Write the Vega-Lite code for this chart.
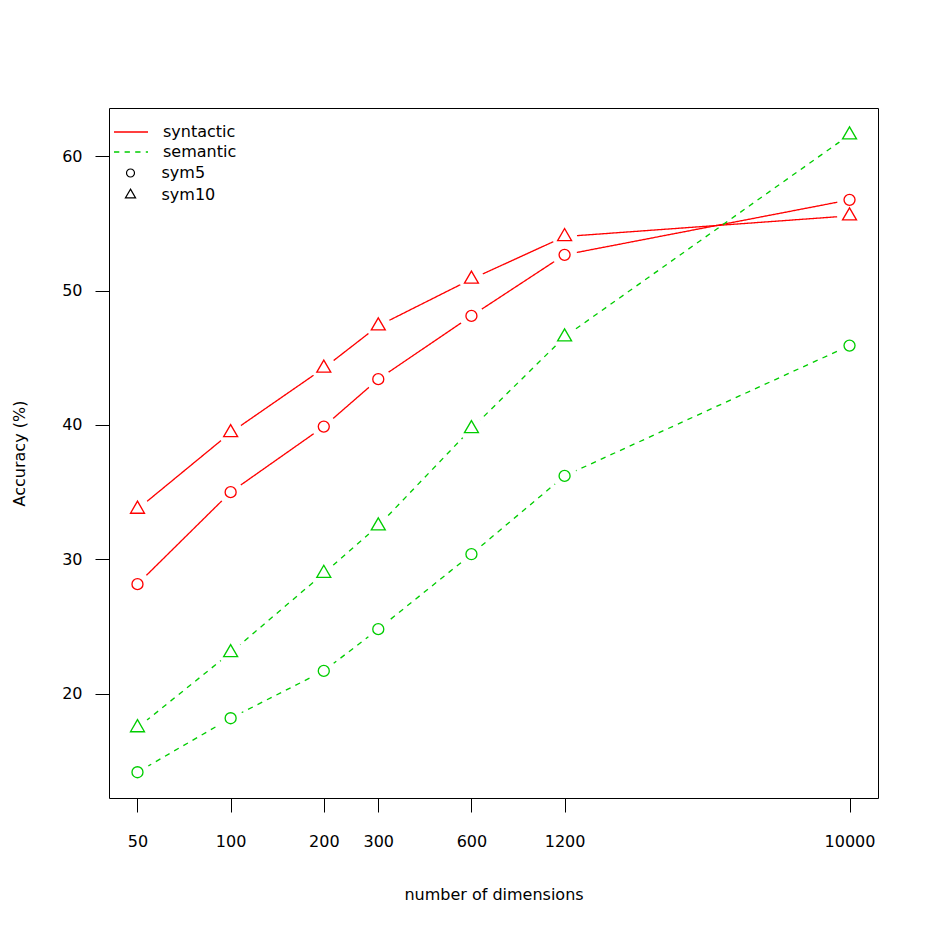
{
  "$schema": "https://vega.github.io/schema/vega-lite/v6.json",
  "width": 769,
  "height": 690,
  "autosize": {"type": "none"},
  "padding": {"left": 109, "top": 108, "right": 56, "bottom": 136},
  "background": "white",
  "data": {
    "values": [
      {"dim": 50, "acc": 28.15, "method": "syntactic", "sym": "sym5"},
      {"dim": 100, "acc": 35.0, "method": "syntactic", "sym": "sym5"},
      {"dim": 200, "acc": 39.88, "method": "syntactic", "sym": "sym5"},
      {"dim": 300, "acc": 43.41, "method": "syntactic", "sym": "sym5"},
      {"dim": 600, "acc": 48.12, "method": "syntactic", "sym": "sym5"},
      {"dim": 1200, "acc": 52.67, "method": "syntactic", "sym": "sym5"},
      {"dim": 10000, "acc": 56.76, "method": "syntactic", "sym": "sym5"},
      {"dim": 50, "acc": 33.73, "method": "syntactic", "sym": "sym10"},
      {"dim": 100, "acc": 39.43, "method": "syntactic", "sym": "sym10"},
      {"dim": 200, "acc": 44.23, "method": "syntactic", "sym": "sym10"},
      {"dim": 300, "acc": 47.38, "method": "syntactic", "sym": "sym10"},
      {"dim": 600, "acc": 50.86, "method": "syntactic", "sym": "sym10"},
      {"dim": 1200, "acc": 54.03, "method": "syntactic", "sym": "sym10"},
      {"dim": 10000, "acc": 55.57, "method": "syntactic", "sym": "sym10"},
      {"dim": 50, "acc": 14.15, "method": "semantic", "sym": "sym5"},
      {"dim": 100, "acc": 18.17, "method": "semantic", "sym": "sym5"},
      {"dim": 200, "acc": 21.69, "method": "semantic", "sym": "sym5"},
      {"dim": 300, "acc": 24.8, "method": "semantic", "sym": "sym5"},
      {"dim": 600, "acc": 30.38, "method": "semantic", "sym": "sym5"},
      {"dim": 1200, "acc": 36.21, "method": "semantic", "sym": "sym5"},
      {"dim": 10000, "acc": 45.91, "method": "semantic", "sym": "sym5"},
      {"dim": 50, "acc": 17.46, "method": "semantic", "sym": "sym10"},
      {"dim": 100, "acc": 23.05, "method": "semantic", "sym": "sym10"},
      {"dim": 200, "acc": 28.96, "method": "semantic", "sym": "sym10"},
      {"dim": 300, "acc": 32.49, "method": "semantic", "sym": "sym10"},
      {"dim": 600, "acc": 39.73, "method": "semantic", "sym": "sym10"},
      {"dim": 1200, "acc": 46.56, "method": "semantic", "sym": "sym10"},
      {"dim": 10000, "acc": 61.6, "method": "semantic", "sym": "sym10"}
    ]
  },
  "encoding": {
    "x": {
      "field": "dim", "type": "quantitative",
      "scale": {"type": "log", "domain": [40.45, 12360], "nice": false, "zero": false},
      "axis": {
        "title": "number of dimensions",
        "values": [50, 100, 200, 300, 600, 1200, 10000],
        "format": "d",
        "tickSize": 14, "labelPadding": 21, "domain": false, "grid": false,
        "labelFlush": false, "labelOverlap": false,
        "titleY": 101, "titleBaseline": "alphabetic"
      }
    },
    "y": {
      "field": "acc", "type": "quantitative",
      "scale": {"domain": [12.23, 63.6], "nice": false, "zero": false},
      "axis": {
        "title": "Accuracy (%)",
        "values": [20, 30, 40, 50, 60],
        "tickSize": 14, "labelPadding": 13, "domain": false, "grid": false,
        "labelFlush": false, "labelOverlap": false,
        "titleX": -85, "titleY": 345, "titleAngle": -90, "titleBaseline": "alphabetic", "titleAlign": "center"
      }
    }
  },
  "layer": [
    {
      "mark": {"type": "line", "strokeWidth": 1.33},
      "encoding": {
        "color": {
          "field": "method", "type": "nominal",
          "scale": {"domain": ["syntactic", "semantic"], "range": ["#FF0000", "#00CD00"]},
          "legend": {
            "title": null, "orient": "none", "legendX": 4, "legendY": 16,
            "symbolType": "stroke", "symbolSize": 1156, "symbolStrokeWidth": 1.33,
            "labelOffset": 14, "rowPadding": 4, "padding": 0, "clipHeight": 16
          }
        },
        "strokeDash": {
          "field": "method", "type": "nominal",
          "scale": {"domain": ["syntactic", "semantic"], "range": [[1, 0], [5.3, 5.3]]},
          "legend": {
            "title": null, "orient": "none", "legendX": 4, "legendY": 16,
            "symbolType": "stroke", "symbolSize": 1156, "symbolStrokeWidth": 1.33,
            "labelOffset": 14, "rowPadding": 4, "padding": 0, "clipHeight": 16
          }
        },
        "detail": {"field": "sym", "type": "nominal"}
      }
    },
    {
      "mark": {"type": "point", "filled": true, "fill": "white", "opacity": 1, "size": 625, "strokeWidth": 0, "shape": "circle"},
      "encoding": {}
    },
    {
      "mark": {"type": "point", "filled": false, "size": 121, "strokeWidth": 1.33, "opacity": 1},
      "encoding": {
        "stroke": {
          "field": "method", "type": "nominal",
          "scale": {"domain": ["syntactic", "semantic"], "range": ["#FF0000", "#00CD00"]},
          "legend": null
        },
        "shape": {
          "field": "sym", "type": "nominal",
          "scale": {"domain": ["sym5", "sym10"], "range": ["circle", "M0,-1.466L1.27,0.733L-1.27,0.733Z"]},
          "legend": {
            "title": null, "orient": "none", "legendX": 4, "legendY": 57,
            "symbolSize": 64, "symbolStrokeColor": "black", "symbolFillColor": "transparent",
            "symbolStrokeWidth": 1.2, "symbolOffset": 9.5, "labelOffset": 23,
            "rowPadding": 6, "padding": 0, "clipHeight": 16
          }
        }
      }
    }
  ],
  "config": {
    "font": "DejaVu Sans",
    "view": {"stroke": "black", "strokeWidth": 1},
    "axis": {
      "labelFont": "DejaVu Sans", "labelFontSize": 16, "labelColor": "black",
      "titleFont": "DejaVu Sans", "titleFontSize": 16, "titleFontWeight": "normal", "titleColor": "black",
      "tickColor": "black", "tickWidth": 1
    },
    "legend": {
      "labelFont": "DejaVu Sans", "labelFontSize": 16, "labelColor": "black"
    }
  }
}
